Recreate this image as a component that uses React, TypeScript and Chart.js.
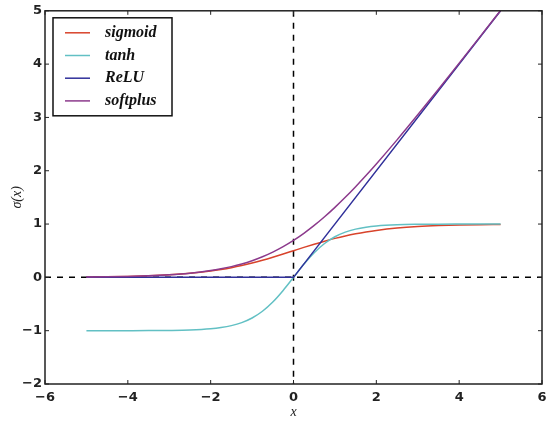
import React, { useEffect, useRef } from "react";
import { Chart, registerables } from "chart.js";

Chart.register(...registerables);

// Sample positions along x
const xs = [-5, -4.5, -4, -3.5, -3, -2.5, -2, -1.75, -1.5, -1.25, -1, -0.75, -0.5, -0.25, 0, 0.25, 0.5, 0.75, 1, 1.25, 1.5, 1.75, 2, 2.5, 3, 3.5, 4, 4.5, 5];

const sigmoidVals = [0.0067, 0.011, 0.018, 0.0293, 0.0474, 0.0759, 0.1192, 0.148, 0.1824, 0.2227, 0.2689, 0.3208, 0.3775, 0.4378, 0.5, 0.5622, 0.6225, 0.6792, 0.7311, 0.7773, 0.8176, 0.852, 0.8808, 0.9241, 0.9526, 0.9707, 0.982, 0.989, 0.9933];

const tanhVals = [-0.9999, -0.9998, -0.9993, -0.9982, -0.9951, -0.9866, -0.964, -0.9414, -0.9051, -0.8483, -0.7616, -0.6351, -0.4621, -0.2449, 0, 0.2449, 0.4621, 0.6351, 0.7616, 0.8483, 0.9051, 0.9414, 0.964, 0.9866, 0.9951, 0.9982, 0.9993, 0.9998, 0.9999];

const softplusVals = [0.0067, 0.011, 0.0181, 0.0298, 0.0486, 0.0789, 0.1269, 0.1602, 0.2014, 0.2519, 0.3133, 0.3869, 0.4741, 0.5759, 0.6931, 0.8259, 0.9741, 1.1369, 1.3133, 1.5019, 1.7014, 1.9102, 2.1269, 2.5789, 3.0486, 3.5298, 4.0181, 4.511, 5.0067];

const reluXs = [-5, 0, 5];
const reluVals = [0, 0, 5];

const seriesLabels = ["sigmoid", "tanh", "ReLU", "softplus"];
const seriesColors = ["#d8432b", "#62c0c4", "#30309a", "#8c3a8c"];

const xTicks = [-6, -4, -2, 0, 2, 4, 6];
const yTicks = [-2, -1, 0, 1, 2, 3, 4, 5];

const fmt = (v: number) => (v < 0 ? "\u2212" + Math.abs(v) : String(v));

const toPoints = (x: number[], y: number[]) => x.map((v, i) => ({ x: v, y: y[i] }));

const framePlugin = {
  id: "frame",
  beforeDatasetsDraw(chart: any) {
    const { ctx, chartArea: a, scales } = chart;
    const x0 = scales.x.getPixelForValue(0);
    const y0 = scales.y.getPixelForValue(0);
    ctx.save();
    ctx.strokeStyle = "#000";
    ctx.lineWidth = 1.5;
    ctx.setLineDash([6, 6]);
    ctx.beginPath();
    ctx.moveTo(x0, a.top);
    ctx.lineTo(x0, a.bottom);
    ctx.moveTo(a.left, y0);
    ctx.lineTo(a.right, y0);
    ctx.stroke();
    ctx.restore();
  },
  afterDraw(chart: any) {
    const { ctx, chartArea: a, scales } = chart;
    ctx.save();
    // axes box
    ctx.strokeStyle = "#222";
    ctx.lineWidth = 1.5;
    ctx.strokeRect(a.left, a.top, a.right - a.left, a.bottom - a.top);
    // inward tick marks on all four sides
    ctx.lineWidth = 1;
    ctx.beginPath();
    xTicks.forEach((t) => {
      const px = scales.x.getPixelForValue(t);
      ctx.moveTo(px, a.bottom);
      ctx.lineTo(px, a.bottom - 4);
      ctx.moveTo(px, a.top);
      ctx.lineTo(px, a.top + 4);
    });
    yTicks.forEach((t) => {
      const py = scales.y.getPixelForValue(t);
      ctx.moveTo(a.left, py);
      ctx.lineTo(a.left + 4, py);
      ctx.moveTo(a.right, py);
      ctx.lineTo(a.right - 4, py);
    });
    ctx.stroke();

    // axis titles
    ctx.fillStyle = "#222";
    ctx.font = "italic 14px 'Liberation Serif', 'DejaVu Serif', serif";
    ctx.textAlign = "center";
    ctx.textBaseline = "middle";
    ctx.fillText("x", (a.left + a.right) / 2, 412);
    ctx.save();
    ctx.translate(17, (a.top + a.bottom) / 2);
    ctx.rotate(-Math.PI / 2);
    ctx.fillText("\u03c3(x)", 0, 0);
    ctx.restore();

    // legend box
    const lx = a.left + 8;
    const ly = a.top + 7;
    const lw = 119;
    const lh = 98;
    ctx.fillStyle = "#fff";
    ctx.fillRect(lx, ly, lw, lh);
    ctx.strokeStyle = "#111";
    ctx.lineWidth = 1.5;
    ctx.strokeRect(lx, ly, lw, lh);
    ctx.font = "italic bold 16px 'Liberation Serif', 'DejaVu Serif', serif";
    ctx.textAlign = "left";
    chart.data.datasets.forEach((ds: any, i: number) => {
      const cy = ly + 15 + i * 22.7;
      ctx.strokeStyle = ds.borderColor;
      ctx.lineWidth = 1.5;
      ctx.beginPath();
      ctx.moveTo(lx + 12, cy);
      ctx.lineTo(lx + 37, cy);
      ctx.stroke();
      ctx.fillStyle = "#111";
      ctx.fillText(ds.label, lx + 52, cy);
    });
    ctx.restore();
  },
};

export default function App() {
  const ref = useRef<HTMLCanvasElement | null>(null);

  useEffect(() => {
    if (!ref.current) return;
    const lineStyle = { borderWidth: 1.5, pointRadius: 0, fill: false, cubicInterpolationMode: "monotone" as const };
    const tickFont = { family: "'DejaVu Sans', sans-serif", size: 13, weight: "bold" as const };
    const chart = new Chart(ref.current, {
      type: "line",
      data: {
        datasets: [
          { label: seriesLabels[0], data: toPoints(xs, sigmoidVals), borderColor: seriesColors[0], order: 4, ...lineStyle },
          { label: seriesLabels[1], data: toPoints(xs, tanhVals), borderColor: seriesColors[1], order: 3, ...lineStyle },
          { label: seriesLabels[2], data: toPoints(reluXs, reluVals), borderColor: seriesColors[2], order: 2, ...lineStyle, cubicInterpolationMode: "default" as const },
          { label: seriesLabels[3], data: toPoints(xs, softplusVals), borderColor: seriesColors[3], order: 1, ...lineStyle },
        ],
      },
      options: {
        animation: false,
        responsive: false,
        maintainAspectRatio: false,
        layout: { padding: { top: 7, right: 7, left: 0, bottom: 0 } },
        plugins: { legend: { display: false }, tooltip: { enabled: false } },
        scales: {
          x: {
            type: "linear",
            min: -6,
            max: 6,
            afterFit: (s: any) => { s.height = 38; s.paddingLeft = 0; s.paddingRight = 0; },
            afterBuildTicks: (s: any) => { s.ticks = xTicks.map((v) => ({ value: v })); },
            grid: { display: false, drawTicks: false },
            border: { display: false },
            ticks: {
              padding: 6,
              color: "#222",
              font: tickFont,
              callback: (v: any) => fmt(Number(v)),
            },
          },
          y: {
            type: "linear",
            min: -2,
            max: 5,
            afterFit: (s: any) => { s.width = 45; },
            afterBuildTicks: (s: any) => { s.ticks = yTicks.map((v) => ({ value: v })); },
            grid: { display: false, drawTicks: false },
            border: { display: false },
            ticks: {
              padding: 3,
              color: "#222",
              font: tickFont,
              callback: (v: any) => fmt(Number(v)),
            },
          },
        },
      },
      plugins: [framePlugin],
    });
    return () => chart.destroy();
  }, []);

  return (
    <div style={{ position: "fixed", left: 0, top: 0, width: 549, height: 422, background: "#fff" }}>
      <canvas ref={ref} width={549} height={422} style={{ width: 549, height: 422 }} />
    </div>
  );
}
